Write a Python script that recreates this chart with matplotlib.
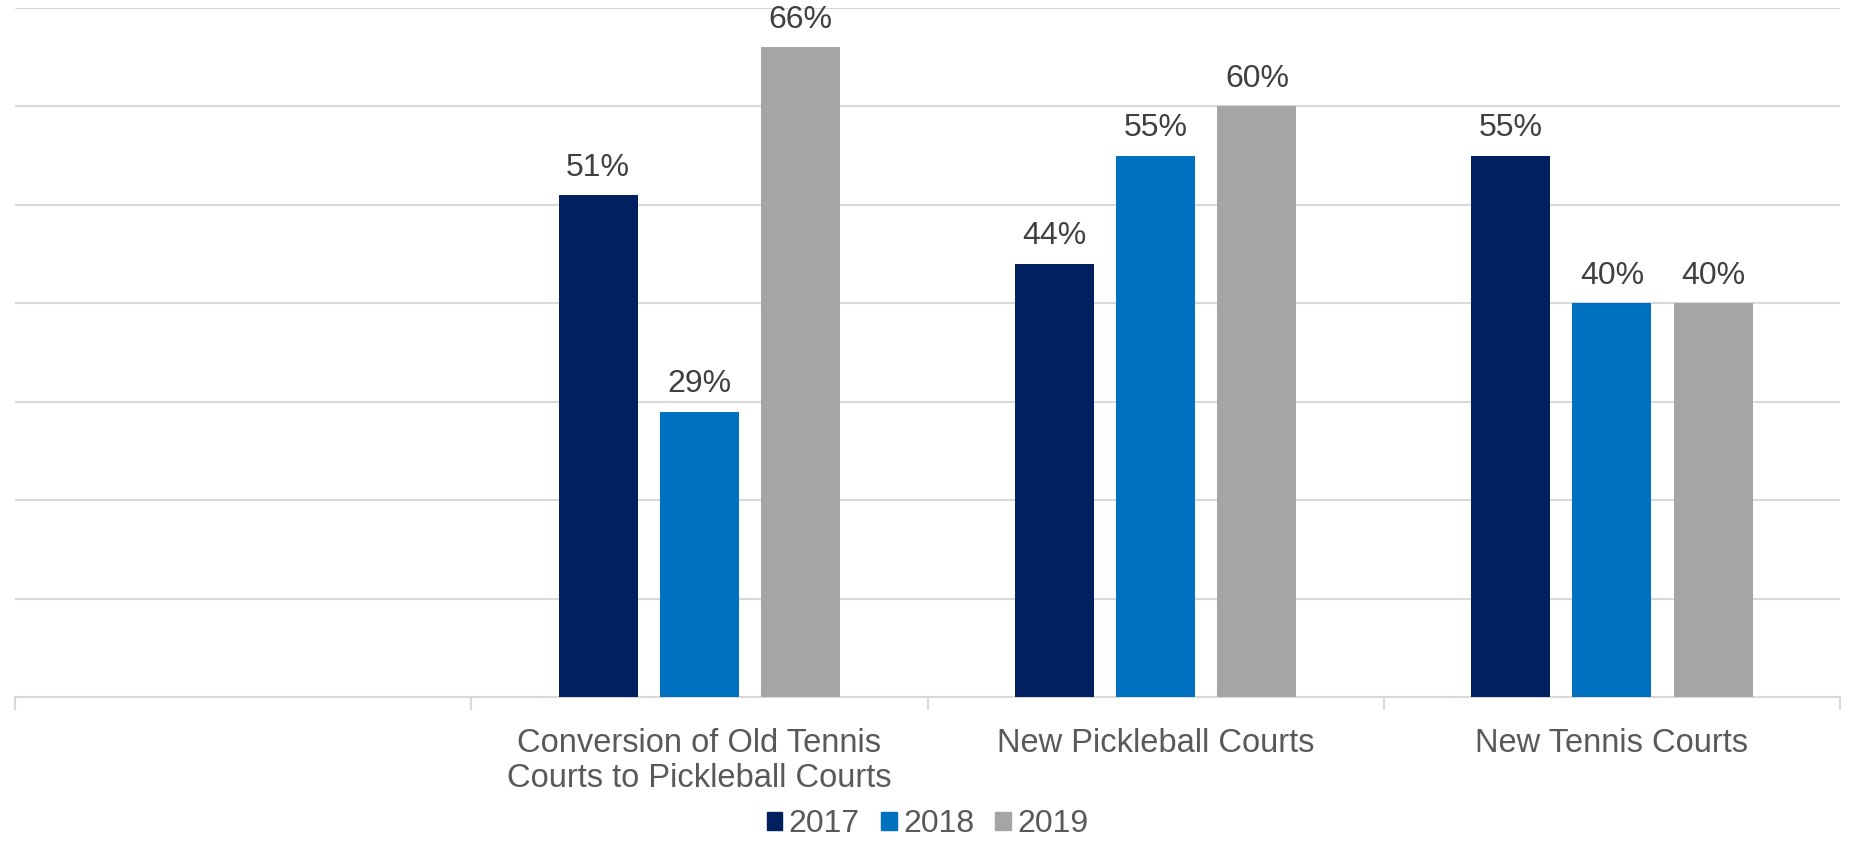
import matplotlib
matplotlib.use("Agg")
import matplotlib.pyplot as plt
from matplotlib.patches import Patch
import numpy as np

categories = ["", "Conversion of Old Tennis\nCourts to Pickleball Courts",
              "New Pickleball Courts", "New Tennis Courts"]
series_names = ["2017", "2018", "2019"]
v2017 = [None, 51, 44, 55]
v2018 = [None, 29, 55, 40]
v2019 = [None, 66, 60, 40]
colors = ["#002060", "#0070C0", "#A5A5A5"]

plt.rcParams['font.family'] = ['Liberation Sans', 'DejaVu Sans']

fig = plt.figure(figsize=(18.5, 8.42), dpi=100)
ax = fig.add_axes([15/1850, 1-697/842, (1840-15)/1850, (697-8)/842])

x = np.arange(len(categories))
width = 0.173
step = 0.222
for i, (name, vals, c) in enumerate(zip(series_names, [v2017, v2018, v2019], colors)):
    xs = [xi + (i-1)*step for xi, v in zip(x, vals) if v is not None]
    ys = [v for v in vals if v is not None]
    ax.bar(xs, ys, width=width, color=c, zorder=3, label=name)
    for bx, by in zip(xs, ys):
        ax.annotate(f"{by}%", (bx, by), xytext=(0, 9), textcoords="offset points",
                    ha="center", va="bottom", fontsize=23, color="#404040")

ax.set_ylim(0, 70)
ax.set_xlim(-0.5, len(categories)-0.5)
ax.set_yticks(np.arange(0, 71, 10))
ax.yaxis.grid(True, color="#D9D9D9", linewidth=1.5, zorder=0)
ax.tick_params(axis='y', length=0, labelleft=False)
for s in ["left", "right", "top"]:
    ax.spines[s].set_visible(False)
ax.spines["bottom"].set_color("#D9D9D9")
ax.spines["bottom"].set_linewidth(1.5)
ax.set_xticks(x)
ax.set_xticklabels(categories, fontsize=23.5, color="#595959", linespacing=1.18)
ax.tick_params(axis='x', which='major', length=0, pad=22)
ax.set_xticks(np.arange(-0.5, len(categories), 1), minor=True)
ax.tick_params(axis='x', which='minor', length=9, width=1.5, color="#D9D9D9")

handles = [Patch(color=c) for c in colors]
fig.legend(handles, series_names, loc="center", bbox_to_anchor=((15+1840)/2/1850, 1-824/842),
           ncol=3, frameon=False, fontsize=23, labelcolor="#595959",
           handlelength=0.5, handleheight=0.5, handletextpad=0.2, columnspacing=0.65,
           borderpad=0.1)

fig.savefig("out.png", dpi=100)
